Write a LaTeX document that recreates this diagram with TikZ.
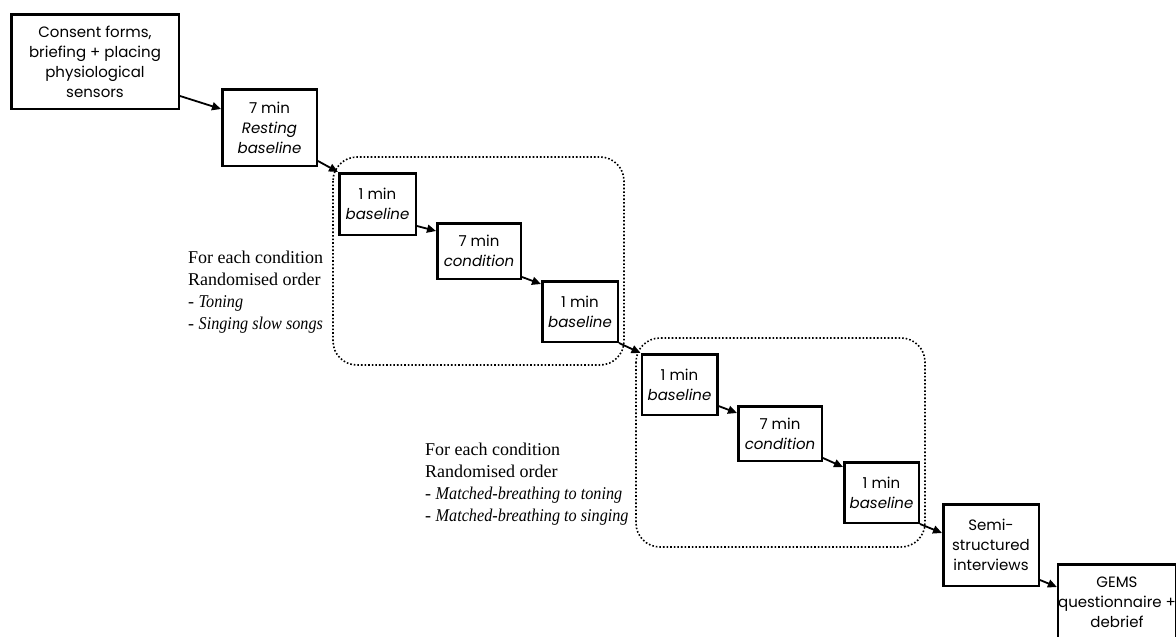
\documentclass[tikz,border=0pt]{standalone}
\usepackage{fontspec}
\setmainfont{Liberation Serif}[ItalicFeatures={FakeStretch=0.9}]
\newfontfamily\boxfont{Poppins}
\usetikzlibrary{arrows.meta}

\begin{document}
\begin{tikzpicture}[
		x=1pt, y=-1pt,
		step box/.style={draw, line width=2.5pt, align=center, inner sep=0pt,
			font=\boxfont\fontsize{15}{20}\selectfont},
		flow/.style={line width=1.8pt, -{Triangle[length=9pt,width=8pt]}},
		group/.style={draw, dotted, line width=1.6pt, rounded corners=24pt},
		note/.style={anchor=west, align=left, inner sep=0pt,
			font=\fontsize{18}{22}\selectfont}
		]
	\useasboundingbox (0, 0) rectangle (1176, 637);
	
	% Groups
	\draw[group] (333, 157) rectangle (624, 365);
	\draw[group] (636, 338) rectangle (925, 547);
	
	% Before
	\node[step box, minimum width=167.5pt, minimum height=94.5pt] (consent) at (95, 61.5)
		{Consent forms,\\briefing + placing\\physiological\\sensors};
	\node[step box, minimum width=94.5pt, minimum height=76.5pt] (rest) at (269.5, 127.5)
		{7 min\\\textit{Resting}\\\textit{baseline}};
	
	% Condition block 1
	\node[step box, minimum width=76.5pt, minimum height=61.5pt] (baseA) at (377.5, 204)
		{1 min\\\textit{baseline}};
	\node[step box, minimum width=83.5pt, minimum height=55.5pt] (condA) at (479, 251)
		{7 min\\\textit{condition}};
	\node[step box, minimum width=75.5pt, minimum height=60.5pt] (baseB) at (580, 311.5)
		{1 min\\\textit{baseline}};
	\node[note] (noteA) at (188, 292)
		{For each condition\\Randomised order\\- \textit{Toning}\\- \textit{Singing slow songs}};
	
	% Condition block 2
	\node[step box, minimum width=75.5pt, minimum height=60.5pt] (baseC) at (679.5, 384.5)
		{1 min\\\textit{baseline}};
	\node[step box, minimum width=83.5pt, minimum height=54.5pt] (condB) at (780, 433.5)
		{7 min\\\textit{condition}};
	\node[step box, minimum width=74.5pt, minimum height=60.5pt] (baseD) at (881.5, 492.5)
		{1 min\\\textit{baseline}};
	\node[note] (noteB) at (425, 484)
		{For each condition\\Randomised order\\- \textit{Matched-breathing to toning}\\- \textit{Matched-breathing to singing}};
	
	% After
	\node[step box, minimum width=95.5pt, minimum height=81.5pt] (semi) at (991, 545)
		{Semi-\\structured\\interviews};
	\node[step box, minimum width=117.5pt, minimum height=75.5pt] (gems) at (1117, 602)
		{GEMS\\questionnaire +\\debrief};
	
	% Arrows
	\foreach \a/\b/\u/\d in {consent/rest/14/21, rest/baseA/6/0, baseA/condA/10/9,
			condA/baseB/3/4, baseB/baseC/0/0, baseC/condB/10/8, condB/baseD/4/6,
			baseD/semi/0/30, semi/gems/7/24}{
		\draw[flow] ([yshift=\u pt]\a.south east) -- ([yshift=-\d pt]\b.north west);
	}
	
\end{tikzpicture}
\end{document}
